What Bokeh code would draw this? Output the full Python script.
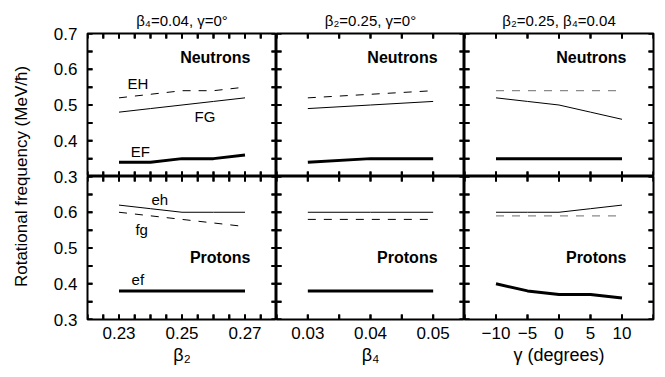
import numpy as np
from bokeh.plotting import figure
from bokeh.models import LinearAxis, FixedTicker, Range1d, Label, GlobalInlineStyleSheet
from bokeh.layouts import gridplot, row
from bokeh.embed import file_html
from bokeh.resources import INLINE

# ---------------- data ----------------
beta2 = [0.23, 0.24, 0.25, 0.26, 0.27]
n_b2_EH = [0.52, 0.53, 0.54, 0.54, 0.55]
n_b2_FG = [0.48, 0.49, 0.50, 0.51, 0.52]
n_b2_EF = [0.34, 0.34, 0.35, 0.35, 0.36]
p_b2_eh = [0.62, 0.61, 0.60, 0.60, 0.60]
p_b2_fg = [0.60, 0.59, 0.58, 0.57, 0.56]
p_b2_ef = [0.38, 0.38, 0.38, 0.38, 0.38]

beta4 = [0.03, 0.04, 0.05]
n_b4_EH = [0.52, 0.53, 0.54]
n_b4_FG = [0.49, 0.50, 0.51]
n_b4_EF = [0.34, 0.35, 0.35]
p_b4_eh = [0.60, 0.60, 0.60]
p_b4_fg = [0.58, 0.58, 0.58]
p_b4_ef = [0.38, 0.38, 0.38]

gamma = [-10, -5, 0, 5, 10]
n_g_EH = [0.54, 0.54, 0.54, 0.54, 0.54]
n_g_FG = [0.52, 0.51, 0.50, 0.48, 0.46]
n_g_EF = [0.35, 0.35, 0.35, 0.35, 0.35]
p_g_eh = [0.60, 0.60, 0.60, 0.61, 0.62]
p_g_fg = [0.59, 0.59, 0.59, 0.59, 0.59]
p_g_ef = [0.40, 0.38, 0.37, 0.37, 0.36]

col_titles = ["β₄=0.04, γ=0°", "β₂=0.25, γ=0°", "β₂=0.25, β₄=0.04"]
x_titles = ["β₂", "β₄", "γ (degrees)"]
y_title = "Rotational frequency (MeV/ħ)"
x_major = [[0.23, 0.25, 0.27], [0.03, 0.04, 0.05], [-10, -5, 0, 5, 10]]
x_tick_labels = [["0.23", "0.25", "0.27"], ["0.03", "0.04", "0.05"],
                 ["\u221210", "\u22125", "0", "5", "10"]]
# tick labels of the two stacked panels, bottom to top (the join shows the upper panel's 0.3)
y_tick_labels = ["0.3", "0.4", "0.5", "0.6", "0.3", "0.4", "0.5", "0.6", "0.7"]
row_names = ["Neutrons", "Protons"]

# ---------------- layout / style ----------------
FONT = "Liberation Sans"
FW = [189, 188, 189]
FH = 143
TOP = 33
BOT = 50
RIGHT = 8
LEFT0 = 2
AXW = 85
TICK_PX = 5

x_ranges = [(0.22, 0.28), (0.025, 0.055), (-15, 15)]
x_step = [0.005, 0.005, 5]
Y0, Y1 = 0.3, 0.7
y_ticks_all = [0.3, 0.35, 0.4, 0.45, 0.5, 0.55, 0.6, 0.65, 0.7]

THICK = dict(line_color="black", line_width=3)
THIN = dict(line_color="black", line_width=1)
DASH_K = dict(line_color="black", line_width=1, line_dash="8 8")
DASH_G = dict(line_color="#8a8a8a", line_width=1.2, line_dash="8 8")
TICK = dict(line_color="black", line_width=2, line_cap="butt")

series = {
    (0, 0): [(beta2, n_b2_EH, DASH_K), (beta2, n_b2_FG, THIN), (beta2, n_b2_EF, THICK)],
    (0, 1): [(beta4, n_b4_EH, DASH_K), (beta4, n_b4_FG, THIN), (beta4, n_b4_EF, THICK)],
    (0, 2): [(gamma, n_g_EH, DASH_G), (gamma, n_g_FG, THIN), (gamma, n_g_EF, THICK)],
    (1, 0): [(beta2, p_b2_eh, THIN), (beta2, p_b2_fg, DASH_K), (beta2, p_b2_ef, THICK)],
    (1, 1): [(beta4, p_b4_eh, THIN), (beta4, p_b4_fg, DASH_K), (beta4, p_b4_ef, THICK)],
    (1, 2): [(gamma, p_g_eh, THIN), (gamma, p_g_fg, DASH_G), (gamma, p_g_ef, THICK)],
}

# curve-name labels (panel, text, x, y)
curve_labels = [
    ((0, 0), "EH", 0.2327, 0.56),
    ((0, 0), "FG", 0.2540, 0.468),
    ((0, 0), "EF", 0.2337, 0.371),
    ((1, 0), "eh", 0.2403, 0.636),
    ((1, 0), "fg", 0.2352, 0.551),
    ((1, 0), "ef", 0.2340, 0.412),
]
name_x = [0.2717, 0.0507, 10.7]
name_y = [0.632, 0.473]


def all_x_ticks(c):
    lo, hi = x_ranges[c]
    return [float(round(v, 4)) for v in np.arange(lo, hi + x_step[c] / 2, x_step[c])]


def make_panel(r, c):
    left = LEFT0 if c == 0 else 0
    right = RIGHT if c == 2 else 0
    top = TOP if r == 0 else 0
    bot = BOT if r == 1 else 0
    x0, x1 = x_ranges[c]
    p = figure(width=FW[c] + left + right, height=FH + top + bot,
               x_range=Range1d(x0, x1), y_range=Range1d(Y0, Y1),
               x_axis_location=None, y_axis_location=None,
               toolbar_location=None, output_backend="svg",
               min_border_left=left, min_border_right=right,
               min_border_top=top, min_border_bottom=bot,
               outline_line_color="black", outline_line_width=2,
               background_fill_color="white", border_fill_color="white")
    p.grid.visible = False
    if r == 1:
        bx = LinearAxis(ticker=FixedTicker(ticks=x_major[c], minor_ticks=[]),
                        axis_line_color=None, major_tick_line_color=None,
                        minor_tick_line_color=None,
                        major_tick_in=0, major_tick_out=0, minor_tick_in=0, minor_tick_out=0,
                        major_label_standoff=7, major_label_text_font_size="17px",
                        major_label_text_font=FONT, major_label_text_color="black",
                        major_label_overrides={t: l for t, l in zip(x_major[c], x_tick_labels[c])},
                        axis_label=x_titles[c], axis_label_text_font=FONT,
                        axis_label_text_font_size="18px", axis_label_text_font_style="normal",
                        axis_label_text_color="black", axis_label_standoff=3)
        p.add_layout(bx, "below")
    if r == 0:
        p.title.text = col_titles[c]
        p.title.align = "center"
        p.title.text_font = FONT
        p.title.text_font_size = "15px"
        p.title.text_font_style = "normal"
        p.title.text_color = "black"
        p.title.standoff = 10
    for xs, ys, st in series[(r, c)]:
        p.line(xs, ys, **st)
    # inward tick marks on all four frame edges (screen-length rays + data segments)
    xt = all_x_ticks(c)
    n = len(xt)
    m = len(y_ticks_all)
    p.ray(x=xt, y=[Y0] * n, length=TICK_PX, length_units="screen", angle=np.pi / 2, **TICK)
    p.ray(x=xt, y=[Y1] * n, length=TICK_PX, length_units="screen", angle=-np.pi / 2, **TICK)
    p.ray(x=[x0] * m, y=y_ticks_all, length=TICK_PX, length_units="screen", angle=0, **TICK)
    p.ray(x=[x1] * m, y=y_ticks_all, length=TICK_PX, length_units="screen", angle=np.pi, **TICK)
    dy = TICK_PX / FH * (Y1 - Y0)
    dx = TICK_PX / FW[c] * (x1 - x0)
    p.segment(x0=xt, y0=[Y0] * n, x1=xt, y1=[Y0 + dy] * n, **TICK)
    p.segment(x0=xt, y0=[Y1] * n, x1=xt, y1=[Y1 - dy] * n, **TICK)
    p.segment(x0=[x0] * m, y0=y_ticks_all, x1=[x0 + dx] * m, y1=y_ticks_all, **TICK)
    p.segment(x0=[x1] * m, y0=y_ticks_all, x1=[x1 - dx] * m, y1=y_ticks_all, **TICK)
    for (pr, pc), txt, lx, ly in curve_labels:
        if (pr, pc) == (r, c):
            p.add_layout(Label(x=lx, y=ly, text=txt, text_font=FONT, text_font_size="15px",
                               text_align="left", text_baseline="middle", text_color="black"))
    p.add_layout(Label(x=name_x[c], y=name_y[r], text=row_names[r], text_font=FONT,
                       text_font_size="16px", text_font_style="bold",
                       text_align="right", text_baseline="middle", text_color="black"))
    return p


panels = [[make_panel(r, c) for c in range(3)] for r in range(2)]

# tick-label axis spanning both rows (labels of both stacked panels)
yax = figure(width=AXW, height=TOP + 2 * FH + BOT,
             x_range=Range1d(0, 1), y_range=Range1d(0, len(y_tick_labels) - 1),
             x_axis_location=None, y_axis_location=None,
             toolbar_location=None, output_backend="svg",
             min_border_left=AXW - 1, min_border_right=0,
             min_border_top=TOP, min_border_bottom=BOT,
             outline_line_color=None,
             background_fill_color="white", border_fill_color="white")
yax.grid.visible = False
ly = LinearAxis(ticker=FixedTicker(ticks=list(range(len(y_tick_labels))), minor_ticks=[]),
                axis_line_color=None, major_tick_line_color=None, minor_tick_line_color=None,
                major_tick_in=0, major_tick_out=0, minor_tick_in=0, minor_tick_out=0,
                major_label_standoff=7, major_label_text_font_size="17px",
                major_label_text_font=FONT, major_label_text_color="black",
                major_label_overrides={i: t for i, t in enumerate(y_tick_labels)},
                axis_label=y_title, axis_label_text_font=FONT,
                axis_label_text_color="black",
                axis_label_text_font_size="17px", axis_label_text_font_style="normal",
                axis_label_standoff=20)
yax.add_layout(ly, "left")

grid = gridplot(panels, toolbar_location=None)
layout = row(yax, grid,
             stylesheets=[GlobalInlineStyleSheet(css="html, body { overflow: hidden; }")])

open("out.html", "w").write(file_html(layout, INLINE))
